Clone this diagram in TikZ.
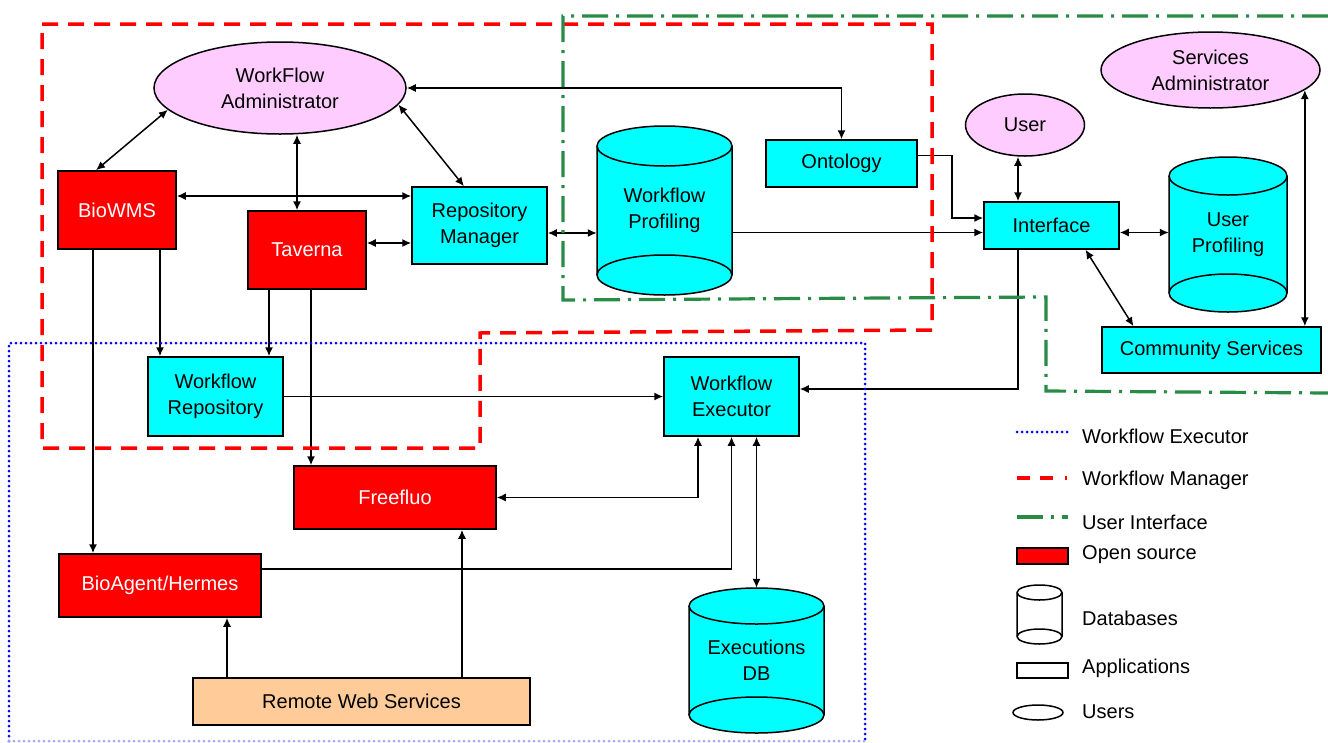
\documentclass[tikz,border=0pt]{standalone}
\usepackage{fontspec}
\setmainfont{Liberation Sans}
\usetikzlibrary{arrows.meta,shapes.geometric,calc}
\definecolor{cy}{RGB}{0,255,255}
\definecolor{pk}{RGB}{255,204,255}
\definecolor{peach}{RGB}{255,204,153}
\definecolor{uigreen}{RGB}{40,140,70}
\newcommand\dbcyl[6]{%
  \filldraw[fill=#6, line width=1.5pt] (#1-#4,#2) -- (#1-#4,#3)
     arc[start angle=180, end angle=360, x radius=#4pt, y radius=#5pt]
     -- (#1+#4,#2)
     arc[start angle=0, end angle=180, x radius=#4pt, y radius=#5pt] -- cycle;
  \draw[line width=1.5pt] (#1-#4,#2) arc[start angle=180, end angle=360, x radius=#4pt, y radius=#5pt];
  \draw[line width=1.5pt] (#1-#4,#3) arc[start angle=180, end angle=0, x radius=#4pt, y radius=#5pt];
}
\begin{document}
\begin{tikzpicture}[x=1pt,y=-1pt,
  every node/.style={font=\fontsize{20}{26}\selectfont, inner sep=0pt},
  box/.style={draw=black, line width=1.5pt, rectangle, align=center},
  app/.style={box, fill=cy},
  oss/.style={box, fill=red, text=white},
  usr/.style={draw=black, line width=1.5pt, ellipse, fill=pk, align=center},
  dbn/.style={rectangle, align=center},
  con/.style={line width=1.5pt, draw=black},
  arr/.style={con, -{Latex[length=9pt,width=8pt]}},
  biarr/.style={con, {Latex[length=9pt,width=8pt]}-{Latex[length=9pt,width=8pt]}},
  mgr/.style={draw=red, line width=3.5pt, dash pattern=on 16pt off 10pt},
  ui/.style={draw=uigreen, line width=3.2pt, dash pattern=on 26pt off 8pt on 3pt off 8pt},
  exe/.style={draw=blue, line width=3pt, line cap=round, dash pattern=on 0pt off 5pt},
]
\fill[white] (0,0) rectangle (1328,742);
\useasboundingbox (0,0) rectangle (1328,742);

% databases
\dbcyl{664.5}{146}{275}{67.5}{20}{cy}
\dbcyl{1228}{176}{293}{59}{19}{cy}
\dbcyl{756.5}{606}{715}{67.5}{18}{cy}

% nodes
\node[usr, minimum width=252pt, minimum height=92pt] (wfadmin) at (280,88) {WorkFlow\\Administrator};
\node[oss, minimum width=118pt, minimum height=78pt] (biowms) at (117,210) {BioWMS};
\node[oss, minimum width=118pt, minimum height=78pt] (taverna) at (307,250) {Taverna};
\node[app, minimum width=135pt, minimum height=77pt] (repmgr) at (479.5,225.5) {Repository\\Manager};
\node[dbn, minimum width=135pt, minimum height=169pt] (wp) at (664.5,210.5) {Workflow\\Profiling};
\node[app, minimum width=151pt, minimum height=47pt] (ontology) at (841.5,163.5) {Ontology};
\node[usr, minimum width=119pt, minimum height=62pt] (user) at (1025,125) {User};
\node[usr, minimum width=219pt, minimum height=76pt] (servadmin) at (1210.5,70) {Services\\Administrator};
\node[app, minimum width=135pt, minimum height=47pt] (interface) at (1051.5,225.5) {Interface};
\node[dbn, minimum width=118pt, minimum height=155pt] (userprof) at (1228,234.5) {User\\Profiling};
\node[app, minimum width=219pt, minimum height=46pt] (community) at (1211.5,350) {Community Services};
\node[app, minimum width=135pt, minimum height=79pt] (wfrepo) at (215.5,396.5) {Workflow\\Repository};
\node[app, minimum width=135pt, minimum height=79pt] (wfexec) at (731.5,396.5) {Workflow\\Executor};
\node[oss, minimum width=202pt, minimum height=63pt] (freefluo) at (395,497.5) {Freefluo};
\node[oss, minimum width=202pt, minimum height=63pt] (bioagent) at (160,585.5) {BioAgent/Hermes};
\node[box, fill=peach, minimum width=337pt, minimum height=47pt] (rws) at (361.5,701.5) {Remote Web Services};
\node[dbn, minimum width=135pt, minimum height=145pt] (execdb) at (756.5,660.5) {Executions\\DB};

% connectors
\draw[biarr] (wfadmin.191) -- ([xshift=-21pt]biowms.north);
\coordinate (t1) at ([xshift=-10pt]taverna.north);
\draw[biarr] (t1) -- (t1 |- wfadmin.south);
\draw[biarr] (wfadmin.352) -- ([xshift=-15.5pt]repmgr.north);
\coordinate (b1) at ([yshift=14pt]biowms.east);
\draw[biarr] (b1) -- (b1 -| repmgr.west);
\coordinate (t2) at ([yshift=7pt]taverna.east);
\draw[biarr] (t2) -- (t2 -| repmgr.west);
\draw[biarr] (wfadmin.east) -| (ontology.north);
\coordinate (r1) at ([yshift=-7.5pt]repmgr.east);
\draw[biarr] (r1) -- (r1 -| wp.west);
\coordinate (i2) at ([yshift=-7pt]interface.west);
\draw[arr] (i2 -| wp.east) -- (i2);
\coordinate (o1) at ([yshift=8pt]ontology.east);
\coordinate (i1) at ([yshift=7.5pt]interface.west);
\draw[arr] (o1) -- ++(34,0) |- (i1);
\coordinate (u1) at ([xshift=-33.5pt]interface.north);
\draw[biarr] (u1) -- (u1 |- user.south);
\coordinate (i3) at ([yshift=-7pt]interface.east);
\draw[biarr] (i3) -- (i3 -| userprof.west);
\draw[biarr] ([xshift=34pt]interface.south) -- ([xshift=-78pt]community.north);
\draw[biarr] (servadmin.-12) -- (servadmin.-12 |- community.north);
\coordinate (u2) at ([xshift=-33.5pt]interface.south);
\coordinate (e1) at ([yshift=7.5pt]wfexec.east);
\draw[arr] (u2) |- (e1);
\coordinate (b2) at ([xshift=43pt]biowms.south);
\draw[arr] (b2) -- (b2 |- wfrepo.north);
\coordinate (t3) at ([xshift=-38pt]taverna.south);
\draw[arr] (t3) -- (t3 |- wfrepo.north);
\coordinate (t4) at ([xshift=4pt]taverna.south);
\draw[arr] (t4) -- (t4 |- freefluo.north);
\coordinate (b3) at ([xshift=-24pt]biowms.south);
\draw[arr] (b3) -- (b3 |- bioagent.north);
\draw[arr] (wfrepo.east) -- (wfexec.west);
\coordinate (e2) at ([xshift=-33.5pt]wfexec.south);
\draw[biarr] (freefluo.east) -| (e2);
\coordinate (a1) at ([yshift=16.5pt]bioagent.east);
\draw[arr] (a1) -| (wfexec.south);
\coordinate (e3) at ([xshift=25pt]wfexec.south);
\draw[biarr] (e3) -- (e3 |- execdb.north);
\coordinate (w1) at ([xshift=-134.5pt]rws.north);
\draw[arr] (w1) -- (w1 |- bioagent.south);
\coordinate (w2) at ([xshift=100.5pt]rws.north);
\draw[arr] (w2) -- (w2 |- freefluo.south);

% region boundaries
\draw[mgr] (42,24) -- (932,24) -- (932,330) -- (480,333) -- (480,448) -- (42,448) -- cycle;
\draw[ui] (1328,16) -- (563,16) -- (563,300) -- (1046,297) -- (1046,391) -- (1328,393);
\draw[exe] (9,741) -- (9,343) -- (865,343) -- (865,741);
\draw[exe, draw=blue!35] (9,741) -- (865,741);

% legend
\draw[exe] (1017,432) -- (1068,432);
\draw[draw=red, line width=3.5pt, dash pattern=on 13pt off 10pt on 13pt off 12pt on 2pt off 20pt] (1017,478) -- (1068,478);
\draw[ui] (1017,517) -- (1068,517);
\draw[line width=1.5pt, fill=red] (1017,548) rectangle (1068,564);
\dbcyl{1039.5}{592.5}{636.5}{22.5}{7.5}{white}
\draw[line width=1.5pt] (1017,663) rectangle (1068,678);
\draw[line width=1.5pt] (1038,712.5) ellipse [x radius=25pt, y radius=7.5pt];
\node[anchor=west] (lg1) at (1082,436) {Workflow Executor};
\node[anchor=west] (lg2) at (1082,480) {Workflow Manager};
\node[anchor=west] (lg3) at (1082,522) {User Interface};
\node[anchor=west] (lg4) at (1082,555) {Open source};
\node[anchor=west] (lg5) at (1082,618) {Databases};
\node[anchor=west] (lg6) at (1082,668) {Applications};
\node[anchor=west] (lg7) at (1082,712) {Users};
\end{tikzpicture}
\end{document}
